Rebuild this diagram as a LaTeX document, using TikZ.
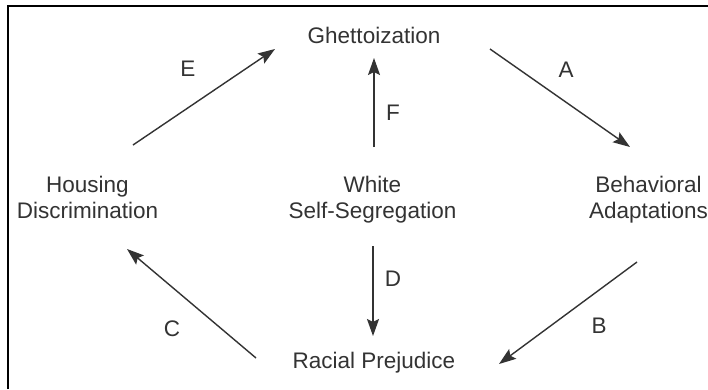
\documentclass[tikz,border=0pt]{standalone}
\usepackage{fontspec}
\setmainfont{Liberation Sans}
\usetikzlibrary{arrows.meta}
\definecolor{ink}{HTML}{333333}
\begin{document}
\begin{tikzpicture}[x=1pt,y=-1pt,
  lbl/.style={anchor=base,inner sep=0pt,text=ink,align=center,
    font=\fontsize{22.5}{25.5}\selectfont},
  arr/.style={draw=ink,line width=1.4pt,-{Stealth[length=17pt,width=12pt,inset=3pt]}},
  frame/.style={line width=2.4pt,black}]
\useasboundingbox (0,0) rectangle (708,389);
\fill[white] (0,0) rectangle (708,389);
\draw[frame] (8,389) -- (8,6) -- (708,6);
% concept nodes (two-line nodes: base = last line)
\node[lbl] (gh) at (374,43) {Ghettoization};
\node[lbl] (hd) at (87.5,218) {Housing\\Discrimination};
\node[lbl] (ws) at (372.5,218) {White\\Self-Segregation};
\node[lbl] (ba) at (648.5,218) {Behavioral\\Adaptations};
\node[lbl] (rp) at (374,368) {Racial Prejudice};
% arrow end points
\coordinate (e1) at (133,145); \coordinate (e2) at (275,49);
\coordinate (f1) at (374,147); \coordinate (f2) at (374,58);
\coordinate (a1) at (490,49);  \coordinate (a2) at (630,147);
\coordinate (b1) at (637,262); \coordinate (b2) at (499,364);
\coordinate (d1) at (373,246); \coordinate (d2) at (373,336);
\coordinate (c1) at (256,358); \coordinate (c2) at (127,249);
\draw[arr] (e1) -- (e2);
\draw[arr] (f1) -- (f2);
\draw[arr] (a1) -- (a2);
\draw[arr] (b1) -- (b2);
\draw[arr] (d1) -- (d2);
\draw[arr] (c1) -- (c2);
% arrow labels
\node[lbl] (le) at (188,76) {E};
\node[lbl] (lf) at (393,120) {F};
\node[lbl] (la) at (566,77) {A};
\node[lbl] (lb) at (599,333) {B};
\node[lbl] (ld) at (393,286) {D};
\node[lbl] (lc) at (172,336) {C};
\end{tikzpicture}
\end{document}
